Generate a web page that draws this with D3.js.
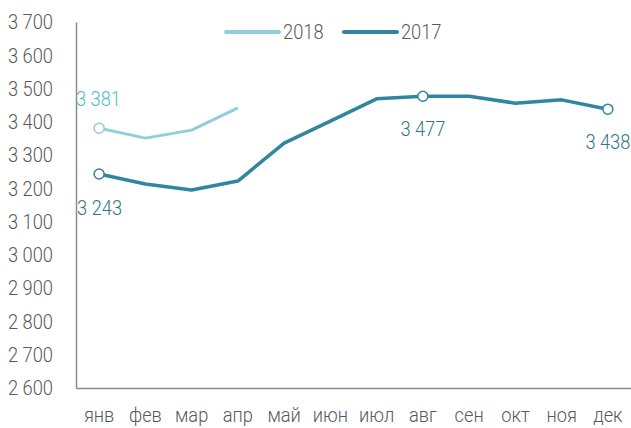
<!DOCTYPE html>
<html>
<head>
<meta charset="utf-8">
<script src="https://cdn.jsdelivr.net/npm/d3@7"></script>
<style>
  body { margin: 0; background: #fff; }
  text { font-family: Roboto, "Open Sans", sans-serif; font-weight: 300; }
</style>
</head>
<body>
<div id="chart-area"></div>
<script>
// DATA
// ****

let months = ["янв", "фев", "мар", "апр", "май", "июн", "июл", "авг", "сен", "окт", "ноя", "дек"]
let values2018 = [3381, 3351, 3375, 3442]
let values2017 = [3243, 3213, 3195, 3222, 3336, 3402, 3469, 3477, 3477, 3456, 3466, 3438]
let yTicks = [2600, 2700, 2800, 2900, 3000, 3100, 3200, 3300, 3400, 3500, 3600, 3700]
let marked2017 = [0, 7, 11]
let marked2018 = [0]

// SVG & SCALES
// ************

let width = 631
let height = 428
let k = 0.87   // horizontal squeeze, the original font is a condensed one
let fs = "21px"

let svg = d3.select("#chart-area")
  .append("svg")
    .attr("width", width)
    .attr("height", height)

let x = d3.scaleBand().domain(months).range([76, 631])
let y = d3.scaleLinear().domain([2600, 3700]).range([388, 22])
let cx = d => x(d) + x.bandwidth() / 2

let fmt = v => d3.format(",")(v).replace(",", " ")

// condensed text: put x into the scaled space
function squeeze(sel) {
  sel.each(function() {
    let t = d3.select(this)
    let xx = +t.attr("x") || 0
    t.attr("x", xx / k).attr("transform", "scale(" + k + ",1)")
  })
}

// AXES
// ****

let leftAxis = d3.axisLeft(y).tickValues(yTicks).tickSize(0).tickPadding(23).tickFormat(fmt)
svg.append("g")
  .attr("class", "left axis")
  .attr("transform", "translate(76, 0)")
  .call(leftAxis)
  .call(g => g.select(".domain").attr("stroke", "#8c8c8c").attr("stroke-width", 1.5))
  .selectAll("text")
    .attr("font-size", fs)
    .attr("fill", "#595959")
    .call(squeeze)

let bottomAxis = d3.axisBottom(x).tickSize(0).tickPadding(19)
svg.append("g")
  .attr("class", "bottom axis")
  .attr("transform", "translate(0, 388)")
  .call(bottomAxis)
  .call(g => g.select(".domain").attr("stroke", "#8c8c8c").attr("stroke-width", 1.5))
  .selectAll("text")
    .attr("font-size", fs)
    .attr("fill", "#595959")
    .call(squeeze)

// LINES
// *****

let c2018 = "#92cddc"
let c2017 = "#31859c"

let line = d3.line().x((d, i) => cx(months[i])).y(d => y(d))

svg.append("path")
  .attr("d", line(values2018))
  .attr("fill", "none")
  .attr("stroke", c2018)
  .attr("stroke-width", 3)
  .attr("stroke-linejoin", "round")

svg.append("path")
  .attr("d", line(values2017))
  .attr("fill", "none")
  .attr("stroke", c2017)
  .attr("stroke-width", 3.5)
  .attr("stroke-linejoin", "round")

// MARKERS
// *******

svg.selectAll(".m2018").data(marked2018).enter()
  .append("circle")
    .attr("cx", i => cx(months[i]))
    .attr("cy", i => y(values2018[i]))
    .attr("r", 5)
    .attr("fill", "#fff")
    .attr("stroke", c2018)
    .attr("stroke-width", 1.5)

svg.selectAll(".m2017").data(marked2017).enter()
  .append("circle")
    .attr("cx", i => cx(months[i]))
    .attr("cy", i => y(values2017[i]))
    .attr("r", 5)
    .attr("fill", "#fff")
    .attr("stroke", c2017)
    .attr("stroke-width", 1.5)

// LABELS
// ******

svg.append("text")
  .attr("x", 76)
  .attr("y", y(values2018[0]) - 22)
  .attr("font-size", fs)
  .attr("fill", "#4bbfc0")
  .text(fmt(values2018[0]))
  .call(squeeze)

let labels2017 = [
  {i: 0, dx: -22, dy: 41, anchor: "start"},
  {i: 7, dx: 0, dy: 40, anchor: "middle"},
  {i: 11, dx: 0, dy: 40, anchor: "middle"}
]
svg.selectAll(".l2017").data(labels2017).enter()
  .append("text")
    .attr("x", d => cx(months[d.i]) + d.dx)
    .attr("y", d => y(values2017[d.i]) + d.dy)
    .attr("text-anchor", d => d.anchor)
    .attr("font-size", fs)
    .attr("fill", "#31797f")
    .text(d => fmt(values2017[d.i]))
    .call(squeeze)

// LEGEND
// ******

let legend = [{name: "2018", color: c2018, x: 226}, {name: "2017", color: c2017, x: 344}]
let lg = svg.selectAll(".legend").data(legend).enter().append("g")
lg.append("line")
  .attr("x1", d => d.x).attr("x2", d => d.x + 53)
  .attr("y1", 32).attr("y2", 32)
  .attr("stroke", d => d.color)
  .attr("stroke-width", 4)
  .attr("stroke-linecap", "round")
lg.append("text")
  .attr("x", d => d.x + 57)
  .attr("y", 39)
  .attr("font-size", fs)
  .attr("fill", "#595959")
  .text(d => d.name)
  .call(squeeze)
</script>
</body>
</html>
